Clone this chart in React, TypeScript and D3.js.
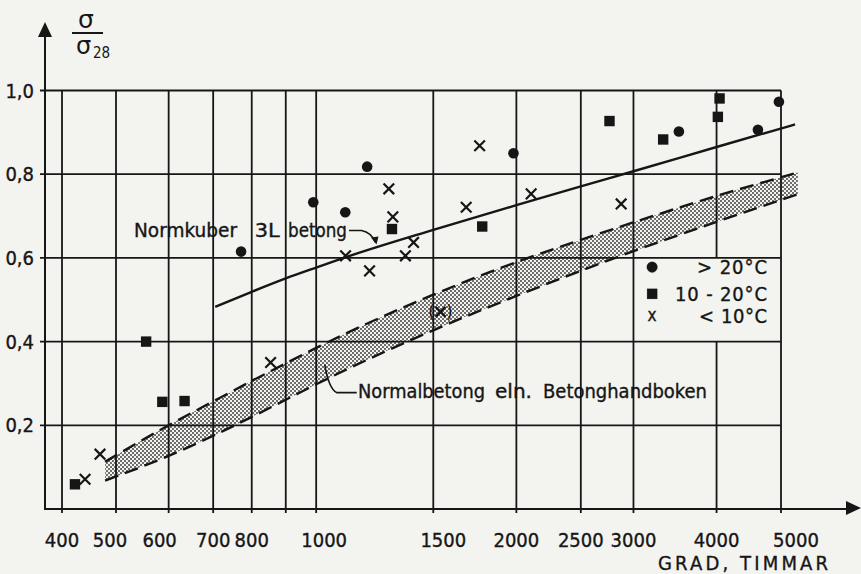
import React from "react";
import * as d3 from "d3";

const W = 861;
const H = 574;
const FONT = "'Liberation Sans Narrow', 'DejaVu Sans Condensed', 'Arial Narrow', sans-serif";
const INK = "#161616";

// Axis ticks (degree-hours on a log axis, strength ratio linear)
const xTicks = [400, 500, 600, 700, 800, 900, 1000, 1500, 2000, 2500, 3000, 4000, 5000];
const xTickLabels = ["400", "500", "600", "700", "800", "", "1000", "1500", "2000", "2500", "3000", "4000", "5000"];
const yTicks = [0.2, 0.4, 0.6, 0.8, 1.0];
const yTickLabels = ["0,2", "0,4", "0,6", "0,8", "1,0"];

// Measurements, > 20 °C (filled circles)
const warmHours = [771, 990, 1106, 1193, 1980, 3511, 4616, 4964];
const warmRatio = [0.615, 0.733, 0.709, 0.818, 0.85, 0.902, 0.906, 0.973];

// Measurements, 10–20 °C (filled squares)
const mildHours = [422, 555, 587, 634, 1300, 1777, 2761, 3325, 4018, 4042];
const mildRatio = [0.059, 0.4, 0.256, 0.258, 0.669, 0.675, 0.927, 0.883, 0.937, 0.981];

// Measurements, < 10 °C (crosses)
const coldHours = [440, 468, 854, 1107, 1203, 1286, 1304, 1362, 1401, 1681, 1761, 2105, 2875];
const coldRatio = [0.071, 0.131, 0.35, 0.605, 0.569, 0.765, 0.698, 0.605, 0.637, 0.721, 0.868, 0.753, 0.729];

// Uncertain < 10 °C value, drawn in brackets
const coldBracketHours = [1538];
const coldBracketRatio = [0.471];

// Reference curve: Normkuber 3L betong
const normHours = [705, 800, 900, 1000, 1100, 1500, 2000, 2500, 3000, 4000, 5250];
const normRatio = [0.483, 0.519, 0.551, 0.577, 0.6, 0.667, 0.726, 0.771, 0.807, 0.865, 0.919];

// Band: Normalbetong enligt Betonghandboken
const bandHours = [478, 600, 700, 800, 900, 1000, 1500, 2000, 2500, 3000, 4000, 5300];
const bandUpper = [0.113, 0.2, 0.257, 0.306, 0.348, 0.385, 0.512, 0.59, 0.643, 0.685, 0.748, 0.804];
const bandLower = [0.068, 0.127, 0.175, 0.22, 0.261, 0.298, 0.427, 0.509, 0.569, 0.616, 0.686, 0.752];

// Small horizontal nudges for individual tick labels
const labelNudge: Record<number, number> = { 500: -6, 600: -9, 1000: 8, 1500: 10, 5000: 15 };

export default function App() {
  const x = d3.scaleLog().domain([400, 500, 5000]).range([62, 116, 781]);
  const y = d3.scaleLinear().domain([0, 1]).range([509, 90.5]);

  const x0 = 45; // y-axis position
  const yBase = y(0);
  const gridRight = x(5000);
  const gridTop = y(1);

  const lineGen = d3
    .line<[number, number]>()
    .x((d) => x(d[0]))
    .y((d) => y(d[1]))
    .curve(d3.curveMonotoneX);

  const bandRows = bandHours.map((h, i) => ({ h, hi: bandUpper[i], lo: bandLower[i] }));
  const areaGen = d3
    .area<{ h: number; hi: number; lo: number }>()
    .x((d) => x(d.h))
    .y0((d) => y(d.lo))
    .y1((d) => y(d.hi))
    .curve(d3.curveMonotoneX);

  const normPath = lineGen(normHours.map((h, i) => [h, normRatio[i]]))!;
  const upperPath = lineGen(bandHours.map((h, i) => [h, bandUpper[i]]))!;
  const lowerPath = lineGen(bandHours.map((h, i) => [h, bandLower[i]]))!;
  const bandPath = areaGen(bandRows)!;

  // Vertical grid lines; the 4000 line is interrupted by the legend cell
  const verticals: { v: number; y1: number; y2: number }[] = [];
  xTicks.forEach((v) => {
    if (v === 4000) {
      verticals.push({ v, y1: gridTop, y2: y(0.6) });
      verticals.push({ v, y1: y(0.4), y2: yBase + 4 });
    } else {
      verticals.push({ v, y1: gridTop, y2: yBase + 4 });
    }
  });

  // Annotation anchors in data space
  const normTip = { h: 1228, r: 0.632 };
  const bandTip = { h: 1030, r: 0.345 };
  const ntx = x(normTip.h);
  const nty = y(normTip.r);
  const btx = x(bandTip.h);
  const bty = y(bandTip.r);

  const cross = (cx: number, cy: number, s: number) =>
    `M${cx - s},${cy - s}L${cx + s},${cy + s}M${cx - s},${cy + s}L${cx + s},${cy - s}`;

  const legendX = x(3200);
  const legendRows = [y(0.578), y(0.514), y(0.46)];

  const textInk = { fill: INK, stroke: INK, strokeWidth: 0.35 };

  return (
    <svg
      width={W}
      height={H}
      viewBox={`0 0 ${W} ${H}`}
      style={{ position: "fixed", left: 0, top: 0, display: "block" }}
      fontFamily={FONT}
    >
      <defs>
        <pattern id="stipple" width="4" height="4" patternUnits="userSpaceOnUse">
          <rect width="4" height="4" fill="#f3f3f0" />
          <circle cx="1" cy="1" r="0.9" fill="#2e2e2e" />
          <circle cx="3" cy="3" r="0.9" fill="#2e2e2e" />
        </pattern>
      </defs>
      <rect width={W} height={H} fill="#f3f3f0" />

      {/* shaded band */}
      <path d={bandPath} fill="url(#stipple)" stroke="none" />

      {/* grid */}
      <g stroke={INK} strokeWidth={1.8}>
        {yTicks.map((t) => (
          <line key={`h${t}`} x1={x0 - 5} x2={gridRight} y1={y(t)} y2={y(t)} />
        ))}
        {verticals.map((g, i) => (
          <line key={`v${i}`} x1={x(g.v)} x2={x(g.v)} y1={g.y1} y2={g.y2} />
        ))}
      </g>

      {/* axes with arrows */}
      <g stroke={INK} strokeWidth={2}>
        <line x1={x0} x2={x0} y1={34} y2={yBase + 1} />
        <line x1={x0} x2={848} y1={yBase} y2={yBase} />
      </g>
      <path d={`M${x0},22L${x0 - 7},37L${x0 + 7},37Z`} fill={INK} />
      <path d={`M861,${yBase - 1}L846,${yBase - 8}L846,${yBase + 6}Z`} fill={INK} />

      {/* band edges */}
      <g fill="none" stroke={INK} strokeWidth={2.4} strokeDasharray="14 7">
        <path d={upperPath} />
        <path d={lowerPath} />
      </g>

      {/* reference curve */}
      <path d={normPath} fill="none" stroke={INK} strokeWidth={2.4} />

      {/* tick labels */}
      <g {...textInk} fontSize={20}>
        {xTicks.map((t, i) =>
          xTickLabels[i] ? (
            <text key={`xl${t}`} x={x(t) + (labelNudge[t] || 0)} y={547} textAnchor="middle">
              {xTickLabels[i]}
            </text>
          ) : null
        )}
        {yTicks.map((t, i) => (
          <text key={`yl${t}`} x={34} y={y(t) + 7} textAnchor="end">
            {yTickLabels[i]}
          </text>
        ))}
      </g>

      {/* axis titles */}
      <text x={658} y={570} {...textInk} fontSize={20} textLength={170} lengthAdjust="spacing">
        GRAD, TIMMAR
      </text>
      <g fill={INK}>
        <text x={78} y={28} fontSize={25} fontFamily="'DejaVu Sans', sans-serif">σ</text>
        <line x1={72} x2={103} y1={33} y2={33} stroke={INK} strokeWidth={2} />
        <text x={76} y={54} fontSize={24} fontFamily="'DejaVu Sans', sans-serif">σ</text>
        <text x={93} y={58} fontSize={15}>28</text>
      </g>

      {/* annotations */}
      <g {...textInk} fontSize={20}>
        <text x={134} y={237} textLength={103} lengthAdjust="spacingAndGlyphs">Normkuber</text>
        <text x={x(800) + 3} y={237} textLength={25} lengthAdjust="spacingAndGlyphs">3L</text>
        <text x={288} y={237} textLength={59} lengthAdjust="spacingAndGlyphs">betong</text>
      </g>
      <path
        d={`M349,${nty - 14}L${ntx - 14},${nty - 14}Q${ntx - 4},${nty - 12} ${ntx},${nty - 2}`}
        fill="none"
        stroke={INK}
        strokeWidth={1.6}
      />
      <path d={`M${ntx + 1},${nty}L${ntx - 4.5},${nty - 7}L${ntx + 3},${nty - 8}Z`} fill={INK} />

      <path
        d={`M${btx},${bty}Q${btx + 4},${bty + 24} ${btx + 12},${bty + 28}L${btx + 32},${bty + 28}`}
        fill="none"
        stroke={INK}
        strokeWidth={1.6}
      />
      <g {...textInk} fontSize={20}>
        <text x={358} y={398} textLength={127} lengthAdjust="spacingAndGlyphs">Normalbetong</text>
        <text x={495} y={398} textLength={37} lengthAdjust="spacingAndGlyphs">eln.</text>
        <text x={543} y={398} textLength={164} lengthAdjust="spacingAndGlyphs">Betonghandboken</text>
      </g>

      {/* measured points */}
      <g fill={INK}>
        {warmHours.map((h, i) => (
          <circle key={`w${i}`} cx={x(h)} cy={y(warmRatio[i])} r={5.3} />
        ))}
        {mildHours.map((h, i) => (
          <rect key={`m${i}`} x={x(h) - 5.2} y={y(mildRatio[i]) - 5.2} width={10.4} height={10.4} />
        ))}
      </g>
      <g stroke={INK} strokeWidth={2.2} fill="none">
        {coldHours.map((h, i) => (
          <path key={`c${i}`} d={cross(x(h), y(coldRatio[i]), 5.3)} />
        ))}
        {coldBracketHours.map((h, i) => (
          <path key={`cb${i}`} d={cross(x(h), y(coldBracketRatio[i]), 5)} />
        ))}
      </g>
      <g fill={INK} fontSize={18}>
        {coldBracketHours.map((h, i) => (
          <g key={`bp${i}`}>
            <text x={x(h) - 9} y={y(coldBracketRatio[i]) + 6} textAnchor="middle">(</text>
            <text x={x(h) + 9} y={y(coldBracketRatio[i]) + 6} textAnchor="middle">)</text>
          </g>
        ))}
      </g>

      {/* legend */}
      <g {...textInk} fontSize={20}>
        <circle cx={legendX} cy={legendRows[0]} r={5.3} />
        <rect x={legendX - 5} y={legendRows[1] - 5} width={10} height={10} />
        <text x={legendX} y={legendRows[2] + 5} textAnchor="middle" fontSize={17}>x</text>
        <text x={767} y={legendRows[0] + 7} textAnchor="end" textLength={70} lengthAdjust="spacing">
          {"> 20°C"}
        </text>
        <text x={767} y={legendRows[1] + 7} textAnchor="end" textLength={92} lengthAdjust="spacing">
          {"10 - 20°C"}
        </text>
        <text x={767} y={legendRows[2] + 7} textAnchor="end" textLength={68} lengthAdjust="spacing">
          {"< 10°C"}
        </text>
      </g>
    </svg>
  );
}
